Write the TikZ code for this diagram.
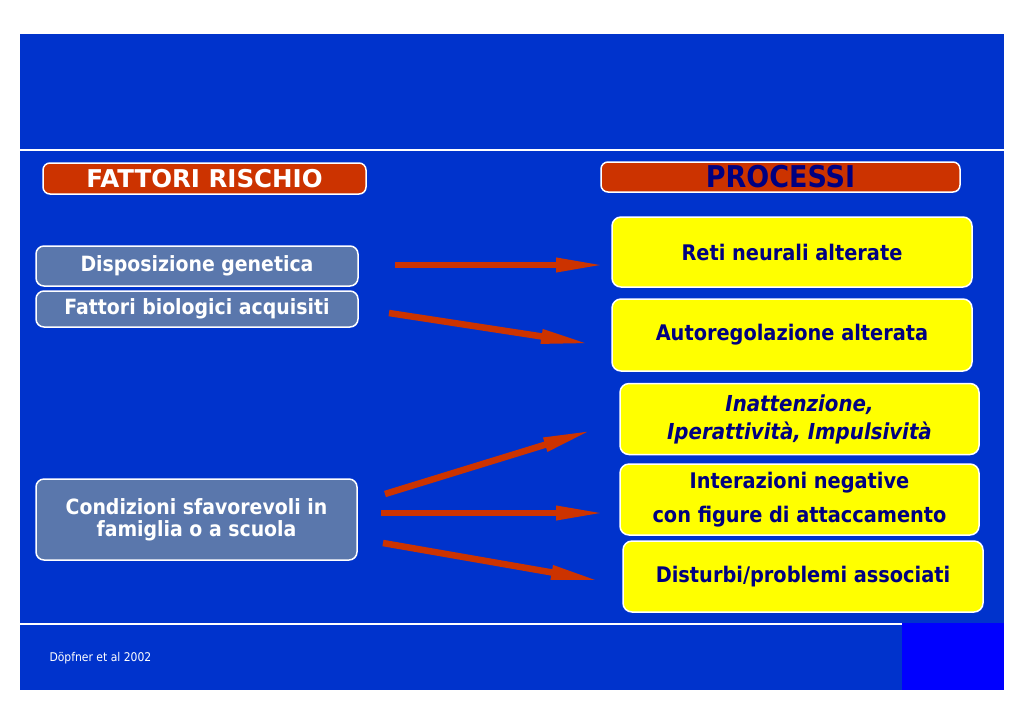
\documentclass[tikz,border=0pt]{standalone}
\usepackage{fontspec}
\setmainfont{DejaVu Sans Condensed}
\newfontfamily\largefont{DejaVu Sans}
\usetikzlibrary{arrows.meta}

\definecolor{slideblue}{HTML}{0033CC}
\definecolor{pureblue}{HTML}{0000FF}
\definecolor{rischio}{HTML}{CC3300}
\definecolor{fattgray}{HTML}{5A77AC}
\definecolor{navy}{HTML}{000080}
\definecolor{giallo}{HTML}{FFFF00}

\begin{document}
\begin{tikzpicture}[x=1pt, y=-1pt]
	\tikzstyle{titolo}=[draw=white, line width=1.5pt, rounded corners=7pt, fill=rischio, inner sep=0pt];
	\tikzstyle{fattore}=[draw=white, line width=1.5pt, rounded corners=8pt, fill=fattgray, text=white, inner sep=0pt, align=center, font=\bfseries\fontsize{21}{22}\selectfont];
	\tikzstyle{processo}=[draw=white, line width=1.5pt, rounded corners=9pt, fill=giallo, text=navy, inner sep=0pt, align=center, font=\bfseries\fontsize{21.5}{28}\selectfont];
	\tikzstyle{freccia}=[draw=rischio, line width=6.5pt, -{Triangle[length=50pt, width=13pt]}];

	% sfondo della slide
	\useasboundingbox (0,0) rectangle (1024,724);
	\fill[slideblue] (19.5,34) rectangle (1004,690);
	\draw[white, line width=1.2pt] (19.5,150) -- (1004,150);
	\draw[white, line width=1.2pt] (19.5,624) -- (902,624);
	\fill[pureblue] (902,623) rectangle (1004,690);

	% intestazioni
	\node[titolo, minimum width=323pt, minimum height=31pt, text=white, font=\largefont\bfseries\fontsize{24.5}{26}\selectfont] (rischi) at (204.5,178.5) {FATTORI RISCHIO};
	\node[titolo, minimum width=359pt, minimum height=30pt, text=navy, font=\bfseries\fontsize{30}{30}\selectfont] (proc) at (780.5,177) {PROCESSI};

	% fattori di rischio
	\node[fattore, minimum width=322pt, minimum height=40pt] (gen) at (197,266) {Disposizione genetica};
	\node[fattore, minimum width=322pt, minimum height=36pt] (bio) at (197,309) {Fattori biologici acquisiti};
	\node[fattore, minimum width=321pt, minimum height=81pt] (cond) at (196.5,519.5) {Condizioni sfavorevoli in\\famiglia o a scuola};

	% processi
	\node[processo, minimum width=360pt, minimum height=70pt] (reti) at (792,252) {Reti neurali alterate};
	\node[processo, minimum width=360pt, minimum height=72pt] (auto) at (792,335) {Autoregolazione alterata};
	\node[processo, minimum width=359pt, minimum height=71pt, font=\bfseries\itshape\fontsize{22}{28}\selectfont] (inatt) at (799.5,419) {Inattenzione,\\Iperattività, Impulsività};
	\node[processo, minimum width=359pt, minimum height=71pt] (inter) at (799.5,499.5) {Interazioni negative\\[6pt]con figure di attaccamento};
	\node[processo, minimum width=360pt, minimum height=71pt] (dist) at (803,576.5) {Disturbi/problemi associati};

	% frecce
	\coordinate (g1) at (395,265);  \coordinate (r1) at (606,265);
	\coordinate (b1) at (389,313);  \coordinate (a1) at (591,344);
	\coordinate (c1) at (385,494);  \coordinate (i1) at (593,430);
	\coordinate (c2) at (381,513);  \coordinate (n1) at (606,513);
	\coordinate (c3) at (383,543);  \coordinate (d1) at (601,581);
	\draw[freccia] (g1) -- (r1);
	\draw[freccia] (b1) -- (a1);
	\draw[freccia] (c1) -- (i1);
	\draw[freccia] (c2) -- (n1);
	\draw[freccia] (c3) -- (d1);

	\node[text=white, anchor=west, font=\fontsize{12}{14}\selectfont] (fonte) at (46,658) {Döpfner et al 2002};
\end{tikzpicture}
\end{document}
